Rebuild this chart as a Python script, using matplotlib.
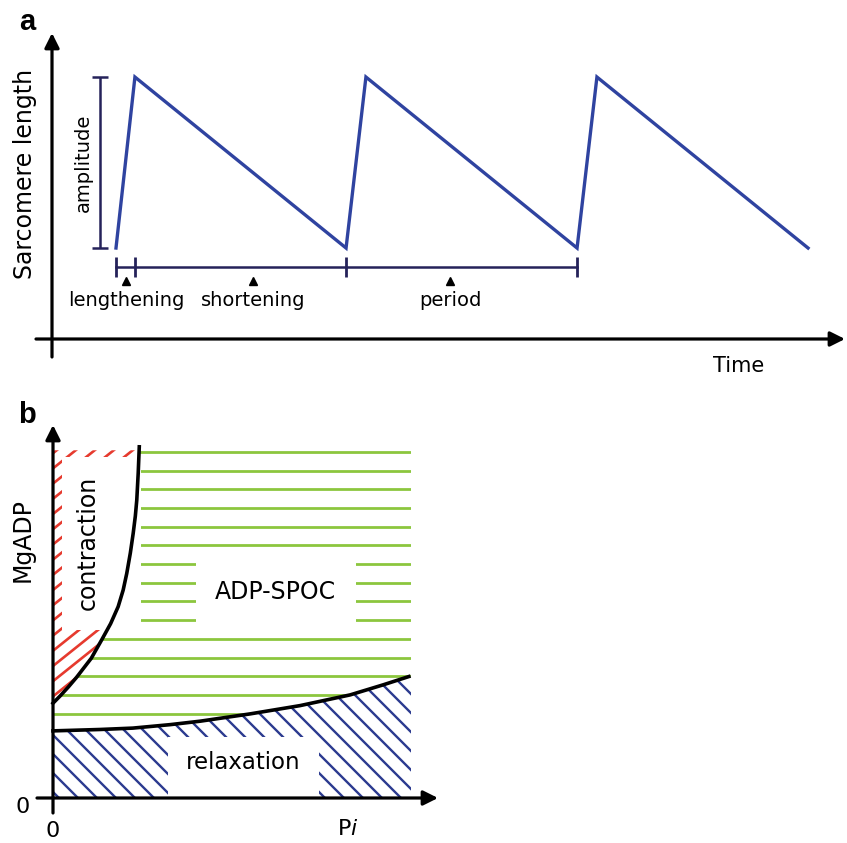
import matplotlib
matplotlib.use("Agg")
import matplotlib.pyplot as plt
import numpy as np
from matplotlib.patches import Polygon, Rectangle
from matplotlib.collections import LineCollection

# %% data -- panel a (time in periods, length in amplitudes)
cycle_time = [0.277, 0.359, 1.273, 1.359, 2.273, 2.359, 3.273]
cycle_length = [0.532, 1.532, 0.532, 1.532, 0.532, 1.532, 0.532]
bar_ticks = [0.277, 0.359, 1.273, 2.273]
phase_labels = ["lengthening", "shortening", "period"]
phase_marks = [0.32, 0.87, 1.723]

# %% data -- panel b (Pi, MgADP in arbitrary units)
contr_pi = [0.0, 0.020, 0.043, 0.066, 0.107, 0.136, 0.161, 0.182, 0.196,
            0.206, 0.216, 0.224, 0.230, 0.234, 0.238, 0.241]
contr_mg = [0.274, 0.295, 0.321, 0.349, 0.404, 0.457, 0.504, 0.553, 0.601,
            0.649, 0.708, 0.765, 0.815, 0.861, 0.939, 1.015]
relax_pi = [0.0, 0.131, 0.223, 0.327, 0.411, 0.55, 0.69, 0.83, 0.922, 0.994]
relax_mg = [0.194, 0.198, 0.202, 0.212, 0.222, 0.243, 0.267, 0.298, 0.327, 0.351]
spoc_levels = [1.0, 0.946, 0.892, 0.838, 0.784, 0.73, 0.676, 0.622, 0.568,
               0.514, 0.46, 0.406, 0.352, 0.298, 0.244]

BLUE = "#2f43a0"
NAVY = "#25225a"
GREEN = "#8cc63e"
RED = "#e63a2e"
HATCH_BLUE = "#2b3a8f"

W, H = 847, 843
fig = plt.figure(figsize=(W / 100, H / 100), dpi=100)


def px_axes(x0, y0, x1, y1, ox, oy, sx, sy):
    # axes placed in a pixel box, data origin at pixel (ox, oy), sx/sy px per unit
    ax = fig.add_axes([x0 / W, 1 - y1 / H, (x1 - x0) / W, (y1 - y0) / H])
    ax.set_xlim((x0 - ox) / sx, (x1 - ox) / sx)
    ax.set_ylim((oy - y1) / sy, (oy - y0) / sy)
    ax.axis("off")
    return ax


def arrow(ax, start, end):
    ax.annotate("", xy=end, xytext=start,
                arrowprops=dict(arrowstyle="-|>", lw=2.3, color="black",
                                mutation_scale=22, shrinkA=0, shrinkB=0),
                annotation_clip=False, zorder=6)


# %% panel a
SXA, SYA = 231, 171
ax_a = px_axes(36, 33, 845, 357, 52, 339, SXA, SYA)
x0, x1 = ax_a.get_xlim()
y0, y1 = ax_a.get_ylim()
arrow(ax_a, (x0, 0), (x1, 0))
arrow(ax_a, (0, y0), (0, y1))

ax_a.plot(cycle_time, cycle_length, color=BLUE, lw=2.4, solid_joinstyle="miter")

amp_mid = (min(cycle_length) + max(cycle_length)) / 2
amp_half = (max(cycle_length) - min(cycle_length)) / 2
ax_a.errorbar([0.208], [amp_mid], yerr=[amp_half], color=NAVY, lw=1.8,
              capsize=6, capthick=1.8)
ax_a.text(0.134, amp_mid, "amplitude", rotation=90, ha="center", va="center",
          fontsize=14)

bar_y = 0.421
ax_a.plot([bar_ticks[0], bar_ticks[-1]], [bar_y, bar_y], color=NAVY, lw=1.8)
ax_a.plot(bar_ticks, [bar_y] * len(bar_ticks), ls="none", marker="|", ms=14,
          mew=2, color=NAVY)
ax_a.plot(phase_marks, [0.339] * 3, ls="none", marker="^", ms=6, color="black")
for lab, t in zip(phase_labels, phase_marks):
    ax_a.text(t, 0.228, lab, ha="center", va="center", fontsize=14)

ax_a.text(2.974, -0.158, "Time", ha="center", va="center", fontsize=15)
ax_a.text(-0.117, 0.965, "Sarcomere length", rotation=90, ha="center",
          va="center", fontsize=17)

# %% panel b
SXB, SYB = 358, 346
ax_b = px_axes(37, 425, 438, 813, 53, 798, SXB, SYB)
x0, x1 = ax_b.get_xlim()
y0, y1 = ax_b.get_ylim()


def hatch(ax, poly, step_px, slope_px, color, lw=1.7):
    # parallel lines with a given pixel slope and horizontal spacing, clipped to poly
    clip = Polygon(poly, closed=True, facecolor="none", edgecolor="none")
    ax.add_patch(clip)
    m = slope_px * SXB / SYB
    step = step_px / SXB
    segs = [[(c - 1.5, -1.5 * m), (c + 1.5, 1.5 * m)]
            for c in np.arange(-2.0, 2.0, step)]
    lc = LineCollection(segs, colors=color, linewidths=lw, zorder=2)
    ax.add_collection(lc)
    lc.set_clip_path(clip)


contr = list(zip(contr_pi, contr_mg))
relax = list(zip(relax_pi, relax_mg))

red_poly = [(0, 1.005)] + contr[:-1] + [(contr_pi[-1], 1.005)]
hatch(ax_b, red_poly, 19, 0.8, RED, lw=1.9)

blue_poly = [(0, 0), (1.0, 0), (1.0, relax_mg[-1])] + relax[::-1]
hatch(ax_b, blue_poly, 19, -1.0, HATCH_BLUE)

green_poly = [(0, relax_mg[0])] + contr + [(contr_pi[-1], 1.05), (1.0, 1.05),
                                          (1.0, relax_mg[-1])] + relax[::-1]
gclip = Polygon(green_poly, closed=True, facecolor="none", edgecolor="none")
ax_b.add_patch(gclip)
gl = ax_b.hlines(spoc_levels, 0, 1.0, colors=GREEN, lw=2.0, zorder=2)
gl.set_clip_path(gclip)

# white label boxes
for bx, by, bw, bh in [(0.025, 0.486, 0.221, 0.50), (0.40, 0.49, 0.446, 0.20),
                       (0.321, -0.01, 0.422, 0.186)]:
    ax_b.add_patch(Rectangle((bx, by), bw, bh, facecolor="white",
                             edgecolor="none", zorder=3))

ax_b.plot(contr_pi, contr_mg, color="black", lw=2.6, zorder=4,
          solid_joinstyle="round")
ax_b.plot(relax_pi, relax_mg, color="black", lw=2.6, zorder=4,
          solid_joinstyle="round")

arrow(ax_b, (x0, 0), (x1, 0))
arrow(ax_b, (0, y0), (0, y1))

ax_b.text(0.098, 0.737, "contraction", rotation=90, ha="center", va="center",
          fontsize=17, zorder=5)
ax_b.text(0.620, 0.595, "ADP-SPOC", ha="center", va="center", fontsize=17,
          zorder=5)
ax_b.text(0.531, 0.104, "relaxation", ha="center", va="center", fontsize=16.5,
          zorder=5)
ax_b.text(-0.084, 0.746, "MgADP", rotation=90, ha="center", va="center",
          fontsize=17)
ax_b.text(-0.084, -0.026, "0", ha="center", va="center", fontsize=16)
ax_b.text(0.0, -0.095, "0", ha="center", va="center", fontsize=16)
ax_b.text(0.824, -0.090, r"P$\mathit{i}$", ha="center", va="center",
          fontsize=16)

fig.text(27 / W, 1 - 22 / H, "a", ha="center", va="center", fontsize=21,
         fontweight="bold", family="Liberation Sans")
fig.text(27 / W, 1 - 415 / H, "b", ha="center", va="center", fontsize=21,
         fontweight="bold", family="Liberation Sans")

fig.savefig("out.png", dpi=100)
